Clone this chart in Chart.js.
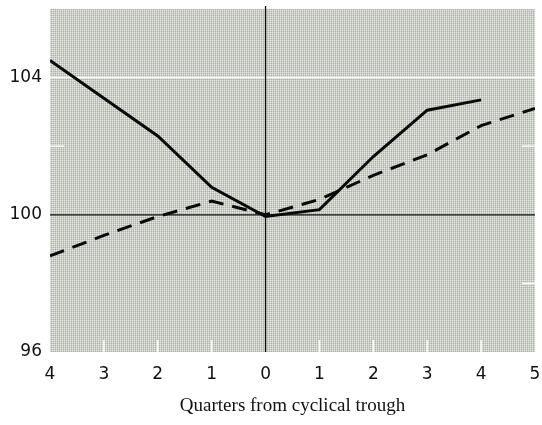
<!DOCTYPE html>
<html>
<head>
<meta charset="utf-8">
<script src="https://cdn.jsdelivr.net/npm/chart.js@4"></script>
<style>
  html, body { margin: 0; padding: 0; background: #fff; }
  #wrap { width: 542px; height: 425px; }
</style>
</head>
<body>
<div id="wrap"><canvas id="troughChart"></canvas></div>
<script>
// Quarters relative to the trough (negative = before)
const quarters = [-4, -3, -2, -1, 0, 1, 2, 3, 4, 5];
const xTickLabels = ['4', '3', '2', '1', '0', '1', '2', '3', '4', '5'];
const yTicks = [96, 100, 104];

// Index values, trough = 100
const solidSeries = [104.5, 103.4, 102.3, 100.8, 99.95, 100.15, 101.7, 103.05, 103.35];
const dashedSeries = [98.8, 99.4, 99.95, 100.4, 100.0, 100.45, 101.15, 101.75, 102.6, 103.1];

function toPoints(values) {
    return values.map((v, i) => ({ x: quarters[i], y: v }));
}

// halftone fill for the plot area
function halftone(ctx) {
    const c = document.createElement('canvas');
    c.width = 2; c.height = 2;
    const p = c.getContext('2d');
    p.fillStyle = '#e6e9e2'; p.fillRect(0, 0, 2, 2);
    p.fillStyle = '#cbcfc7'; p.fillRect(1, 0, 1, 1); p.fillRect(0, 1, 1, 1);
    p.fillStyle = '#aab0a7'; p.fillRect(1, 1, 1, 1);
    return ctx.createPattern(c, 'repeat');
}

const panelPlugin = {
    id: 'panel',
    beforeDraw(chart) {
        const { ctx, chartArea: a } = chart;
        ctx.save();
        ctx.fillStyle = halftone(ctx);
        ctx.fillRect(a.left, a.top, a.right - a.left, a.bottom - a.top);
        ctx.restore();
    },
    beforeDatasetsDraw(chart) {
        const { ctx, chartArea: a, scales } = chart;
        const x = scales.x, y = scales.y;
        ctx.save();
        // white rule at 104
        ctx.strokeStyle = '#ffffff';
        ctx.lineWidth = 1.5;
        let py = y.getPixelForValue(104);
        ctx.beginPath(); ctx.moveTo(a.left, py); ctx.lineTo(a.right, py); ctx.stroke();
        // short white inner ticks
        py = y.getPixelForValue(102);
        ctx.beginPath(); ctx.moveTo(a.left, py); ctx.lineTo(a.left + 14, py); ctx.stroke();
        [98, 102].forEach(v => {
            const q = y.getPixelForValue(v);
            ctx.beginPath(); ctx.moveTo(a.right - 13, q); ctx.lineTo(a.right, q); ctx.stroke();
        });
        quarters.forEach(q => {
            if (q === 0 || q === -4 || q === 5) return;
            const px = x.getPixelForValue(q);
            ctx.beginPath(); ctx.moveTo(px, a.bottom); ctx.lineTo(px, a.bottom - 12); ctx.stroke();
        });
        // black reference lines at trough and 100
        ctx.strokeStyle = '#111';
        ctx.lineWidth = 1.3;
        py = y.getPixelForValue(100);
        ctx.beginPath(); ctx.moveTo(a.left, py); ctx.lineTo(a.right, py); ctx.stroke();
        const px0 = x.getPixelForValue(0);
        ctx.beginPath(); ctx.moveTo(px0, a.top - 3); ctx.lineTo(px0, a.bottom); ctx.stroke();
        ctx.restore();
    }
};

document.addEventListener('DOMContentLoaded', function() {
    const ctx = document.getElementById('troughChart');
    new Chart(ctx.getContext('2d'), {
        type: 'line',
        data: {
            datasets: [
                {
                    label: 'Solid',
                    data: toPoints(solidSeries),
                    borderColor: '#0a0a0a',
                    borderWidth: 3,
                    pointRadius: 0,
                    tension: 0
                },
                {
                    label: 'Dashed',
                    data: toPoints(dashedSeries),
                    borderColor: '#0a0a0a',
                    borderWidth: 3,
                    borderDash: [15, 9],
                    pointRadius: 0,
                    tension: 0
                }
            ]
        },
        options: {
            responsive: true,
            maintainAspectRatio: false,
            animation: false,
            layout: { padding: { top: 9, right: 7, left: 0, bottom: 8 } },
            plugins: {
                legend: { display: false },
                tooltip: { enabled: false }
            },
            scales: {
                x: {
                    type: 'linear',
                    min: -4,
                    max: 5,
                    grid: { display: false, drawTicks: false },
                    border: { display: false },
                    afterFit: (scale) => {
                        scale.height = 65;
                        scale.paddingLeft = 0;
                        scale.paddingRight = 0;
                    },
                    ticks: {
                        stepSize: 1,
                        padding: 12,
                        color: '#111',
                        font: { family: 'DejaVu Sans', size: 17 },
                        callback: (v) => xTickLabels[quarters.indexOf(v)]
                    },
                    title: {
                        display: true,
                        text: 'Quarters from cyclical trough',
                        color: '#111',
                        font: { family: 'Liberation Serif', size: 19 },
                        padding: { top: 11, bottom: 0 }
                    }
                },
                y: {
                    min: 96,
                    max: 106,
                    grid: { display: false, drawTicks: false },
                    border: { display: false },
                    afterBuildTicks: (scale) => { scale.ticks = yTicks.map(v => ({ value: v })); },
                    afterFit: (scale) => {
                        scale.width = 50;
                        scale.paddingTop = 0;
                        scale.paddingBottom = 0;
                    },
                    ticks: {
                        padding: 8,
                        color: '#111',
                        font: { family: 'DejaVu Sans', size: 17 }
                    }
                }
            }
        },
        plugins: [panelPlugin]
    });
});
</script>
</body>
</html>
